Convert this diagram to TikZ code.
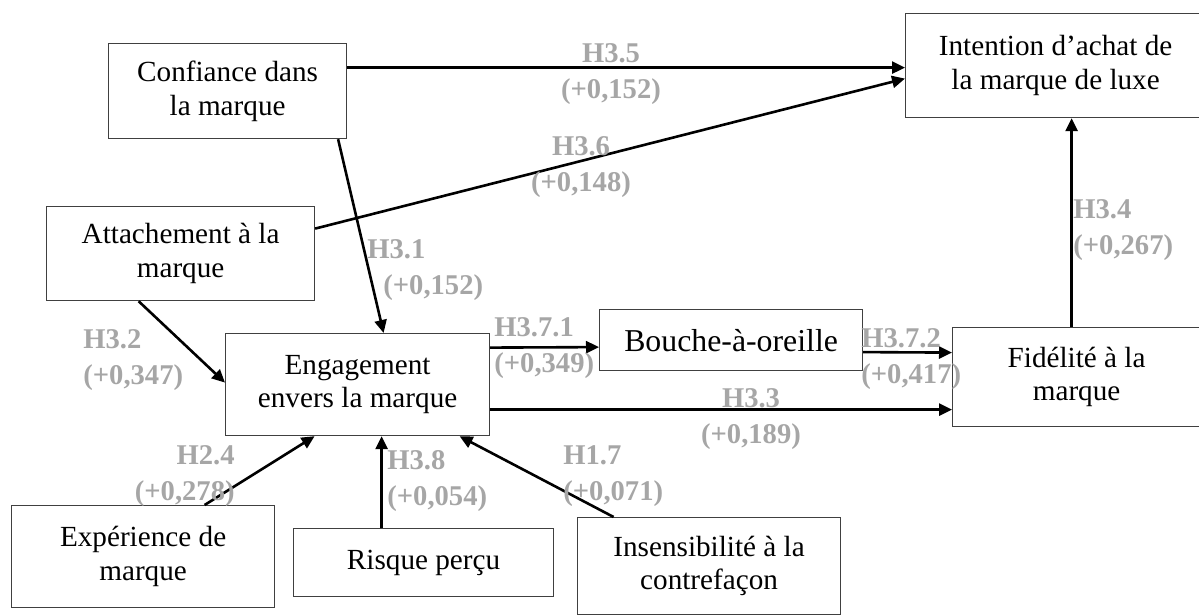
\documentclass[tikz,border=0pt]{standalone}
\usepackage{fontspec}
\setmainfont{Liberation Serif}
\usepackage{xcolor}
\usetikzlibrary{arrows.meta, positioning}
\definecolor{boxgray}{HTML}{404040}
\definecolor{labgray}{HTML}{A6A6A6}

\begin{document}
\begin{tikzpicture}[
  x=0.5pt, y=-0.5pt,
  construct/.style={draw=boxgray, line width=0.6pt, anchor=north west,
    inner sep=0pt, align=center, font=\fontsize{14.6}{16.8}\selectfont},
  hyp/.style={inner sep=0pt, yshift=-2pt, text=labgray,
    font=\fontsize{14.3}{18}\selectfont\bfseries},
  arr/.style={-{Triangle[length=6.5pt, width=6pt]}, line width=1.3pt}
]
  \useasboundingbox (0,0) rectangle (1199,615);

  % Constructs
  \node[construct, minimum width=119pt, minimum height=47.5pt] (conf) at (108,43)
    {Confiance dans\\la marque};
  \node[construct, minimum width=134pt, minimum height=47pt] (attach) at (46,206)
    {Attachement à la\\marque};
  \node[construct, minimum width=150pt, minimum height=52pt] (intent) at (905,13)
    {Intention d’achat de\\la marque de luxe};
  \node[construct, minimum width=132pt, minimum height=51pt] (engag) at (225,333)
    {Engagement\\envers la marque};
  \node[construct, minimum width=131.5pt, minimum height=30.5pt,
    font=\fontsize{15.9}{18}\selectfont] (bouche) at (599,309)
    {Bouche-à-oreille};
  \node[construct, minimum width=124pt, minimum height=49.5pt] (fidel) at (952,327)
    {Fidélité à la\\marque};
  \node[construct, minimum width=131.5pt, minimum height=51pt] (exper) at (11,505)
    {Expérience de\\marque};
  \node[construct, minimum width=130pt, minimum height=34pt] (risque) at (293,528)
    {Risque perçu};
  \node[construct, minimum width=131.5pt, minimum height=48.5pt] (insens) at (577,517)
    {Insensibilité à la\\contrefaçon};

  % Paths
  \draw[arr] ([yshift=11.75pt]conf.east) -- ([yshift=-1pt]intent.west);
  \draw[arr] ([yshift=12.5pt]attach.east) -- ([yshift=-6.5pt]intent.west);
  \draw[arr] ([xshift=55.25pt]conf.south) -- ([xshift=13pt]engag.north);
  \draw[arr] ([xshift=-21pt]attach.south) -- ([yshift=1pt]engag.west);
  \draw[arr] ([yshift=18.5pt]engag.east) -- ([yshift=-3.5pt]bouche.west);
  \draw[arr] ([yshift=-6pt]bouche.east) -- ([yshift=12.25pt]fidel.west);
  \draw[arr] ([yshift=-12.5pt]engag.east) -- ([yshift=-16.25pt]fidel.west);
  \draw[arr] ([xshift=-2.5pt]fidel.north) -- ([xshift=8pt]intent.south);
  \draw[arr] ([xshift=30.75pt]exper.north) -- ([xshift=-21.5pt]engag.south);
  \draw[arr] ([xshift=-21pt]risque.north) -- ([xshift=12pt]engag.south);
  \draw[arr] ([xshift=-47.75pt]insens.north) -- ([xshift=51pt]engag.south);

  % Hypotheses
  \node[hyp, align=center] (h35) at (611,70) {H3.5\\(+0,152)};
  \node[hyp, align=center] (h36) at (581,163) {H3.6\\(+0,148)};
  \node[hyp, align=left, anchor=west] (h31) at (367,266.5) {H3.1\\\hspace{8pt}(+0,152)};
  \node[hyp, align=left, anchor=west] (h34) at (1073,226.5) {H3.4\\(+0,267)};
  \node[hyp, align=left, anchor=west] (h32) at (83,356.5) {H3.2\\(+0,347)};
  \node[hyp, align=left, anchor=west] (h371) at (494,344.5) {H3.7.1\\(+0,349)};
  \node[hyp, align=left, anchor=west] (h372) at (861,355.5) {H3.7.2\\(+0,417)};
  \node[hyp, align=center] (h33) at (751,415) {H3.3\\(+0,189)};
  \node[hyp, align=left, anchor=west] (h17) at (563,472.5) {H1.7\\(+0,071)};
  \node[hyp, align=right, anchor=east] (h24) at (235,472.5) {H2.4\\(+0,278)};
  \node[hyp, align=left, anchor=west] (h38) at (387,477) {H3.8\\(+0,054)};
\end{tikzpicture}
\end{document}
